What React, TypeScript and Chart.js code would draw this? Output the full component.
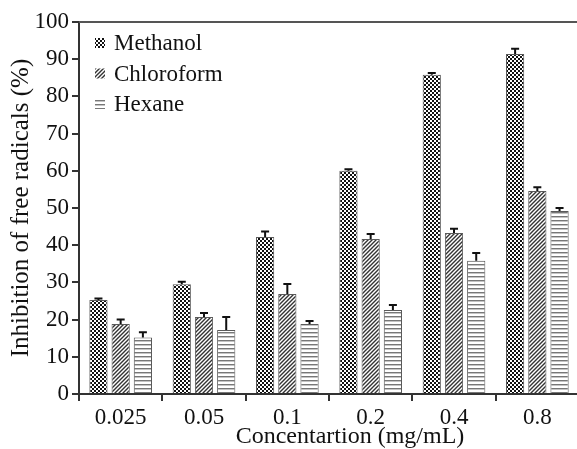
import React, { useEffect, useRef } from "react";
import { Chart, registerables } from "chart.js";
Chart.register(...registerables);

const categories = ["0.025", "0.05", "0.1", "0.2", "0.4", "0.8"];
const seriesNames = ["Methanol", "Chloroform", "Hexane"];
const methanol = [25.3, 29.5, 42.2, 60.0, 85.8, 91.4];
const methanolErr = [0.4, 0.7, 1.5, 0.4, 0.5, 1.4];
const chloroform = [18.8, 20.7, 26.9, 41.7, 43.3, 54.6];
const chloroformErr = [1.2, 1.1, 2.7, 1.3, 1.1, 1.0];
const hexane = [15.2, 17.2, 18.8, 22.6, 35.8, 49.2];
const hexaneErr = [1.4, 3.5, 0.8, 1.3, 2.1, 0.8];
const yMin = 0;
const yMax = 100;
const yStep = 10;
const xTitle = "Concentartion (mg/mL)";
const yTitle = "Inhibition of free radicals (%)";

const FONT = "'Liberation Serif', 'Times New Roman', serif";

function makePattern(kind: string): CanvasPattern | string {
  const c = document.createElement("canvas");
  c.width = 4;
  c.height = 4;
  const g = c.getContext("2d")!;
  g.fillStyle = "#ffffff";
  g.fillRect(0, 0, 4, 4);
  if (kind === "checker") {
    g.fillStyle = "#111111";
    g.fillRect(0, 0, 2, 2);
    g.fillRect(2, 2, 2, 2);
  } else if (kind === "diag") {
    g.strokeStyle = "#333333";
    g.lineWidth = 1.4;
    g.beginPath();
    g.moveTo(-1, 5);
    g.lineTo(5, -1);
    g.moveTo(-3, 3);
    g.lineTo(3, -3);
    g.moveTo(1, 7);
    g.lineTo(7, 1);
    g.stroke();
  } else {
    g.fillStyle = "#777777";
    g.fillRect(0, 0, 4, 1);
    g.fillStyle = "#c4c4c4";
    g.fillRect(0, 1, 4, 1);
  }
  const p = document.createElement("canvas").getContext("2d")!.createPattern(c, "repeat");
  return p || "#888";
}

export default function App() {
  const ref = useRef<HTMLCanvasElement | null>(null);
  useEffect(() => {
    if (!ref.current) return;
    const pats = [makePattern("checker"), makePattern("diag"), makePattern("horiz")];
    const values = [methanol, chloroform, hexane];
    const errs = [methanolErr, chloroformErr, hexaneErr];

    const errorBars = {
      id: "errorBars",
      afterDatasetsDraw(chart: any) {
        const ctx = chart.ctx;
        const ys = chart.scales.y;
        ctx.save();
        ctx.strokeStyle = "#111";
        ctx.lineWidth = 2;
        chart.data.datasets.forEach((ds: any, di: number) => {
          const meta = chart.getDatasetMeta(di);
          meta.data.forEach((el: any, i: number) => {
            const v = values[di][i];
            const e = errs[di][i];
            const yt = ys.getPixelForValue(v + e);
            ctx.beginPath();
            ctx.moveTo(el.x, el.y);
            ctx.lineTo(el.x, yt);
            ctx.moveTo(el.x - 4, yt);
            ctx.lineTo(el.x + 4, yt);
            ctx.stroke();
          });
        });
        ctx.restore();
      },
    };

    const frameLegend = {
      id: "frameLegend",
      afterDraw(chart: any) {
        const ctx = chart.ctx;
        const a = chart.chartArea;
        ctx.save();
        ctx.strokeStyle = "#555";
        ctx.lineWidth = 2;
        ctx.beginPath();
        ctx.moveTo(a.left, a.top);
        ctx.lineTo(a.right, a.top);
        ctx.stroke();
        ctx.font = "23px " + FONT;
        ctx.textBaseline = "middle";
        ctx.fillStyle = "#111";
        seriesNames.forEach((n, i) => {
          const cy = 43 + i * 30.5;
          ctx.fillStyle = pats[i] as any;
          ctx.fillRect(95, cy - 5, 10, 10);
          ctx.fillStyle = "#111";
          ctx.fillText(n, 114, cy + 1);
        });
        ctx.font = "24px " + FONT;
        ctx.textAlign = "center";
        ctx.fillText(xTitle, 350, 437);
        ctx.restore();
      },
    };

    const chart = new Chart(ref.current, {
      type: "bar",
      data: {
        labels: categories,
        datasets: seriesNames.map((n, i) => ({
          label: n,
          data: values[i],
          backgroundColor: pats[i] as any,
          borderColor: "#5a5a5a",
          borderWidth: 1,
          categoryPercentage: 0.8,
          barPercentage: 0.82,
        })),
      },
      options: {
        animation: false,
        responsive: true,
        maintainAspectRatio: false,
        layout: { padding: { top: 22, right: 1, left: 0, bottom: 0 } },
        plugins: { legend: { display: false }, tooltip: { enabled: false } },
        scales: {
          x: {
            afterFit: (s: any) => {
              s.height = 55;
            },
            border: { display: true, color: "#333", width: 2 },
            grid: {
              offset: true,
              drawOnChartArea: false,
              drawTicks: true,
              tickLength: 7,
              color: "#333",
              lineWidth: 2,
            },
            ticks: { font: { family: FONT, size: 23 }, color: "#111", padding: 3 },
            title: { display: false },
          },
          y: {
            min: yMin,
            max: yMax,
            afterFit: (s: any) => {
              s.width = 79;
            },
            border: { display: true, color: "#333", width: 2 },
            grid: {
              drawOnChartArea: false,
              drawTicks: true,
              tickLength: 7,
              color: "#333",
              lineWidth: 2,
            },
            ticks: { stepSize: yStep, font: { family: FONT, size: 23 }, color: "#111", padding: 3 },
            title: {
              display: true,
              text: yTitle,
              font: { family: FONT, size: 25, lineHeight: 1.0 },
              color: "#111",
              padding: { top: 9, bottom: 0 },
            },
          },
        },
      },
      plugins: [errorBars, frameLegend],
    });
    return () => chart.destroy();
  }, []);

  return (
    <div style={{ position: "absolute", left: 0, top: 0, width: 577, height: 449, overflow: "hidden", background: "#fff" }}>
      <div style={{ position: "relative", width: 580, height: 449 }}>
        <canvas ref={ref} />
      </div>
    </div>
  );
}
